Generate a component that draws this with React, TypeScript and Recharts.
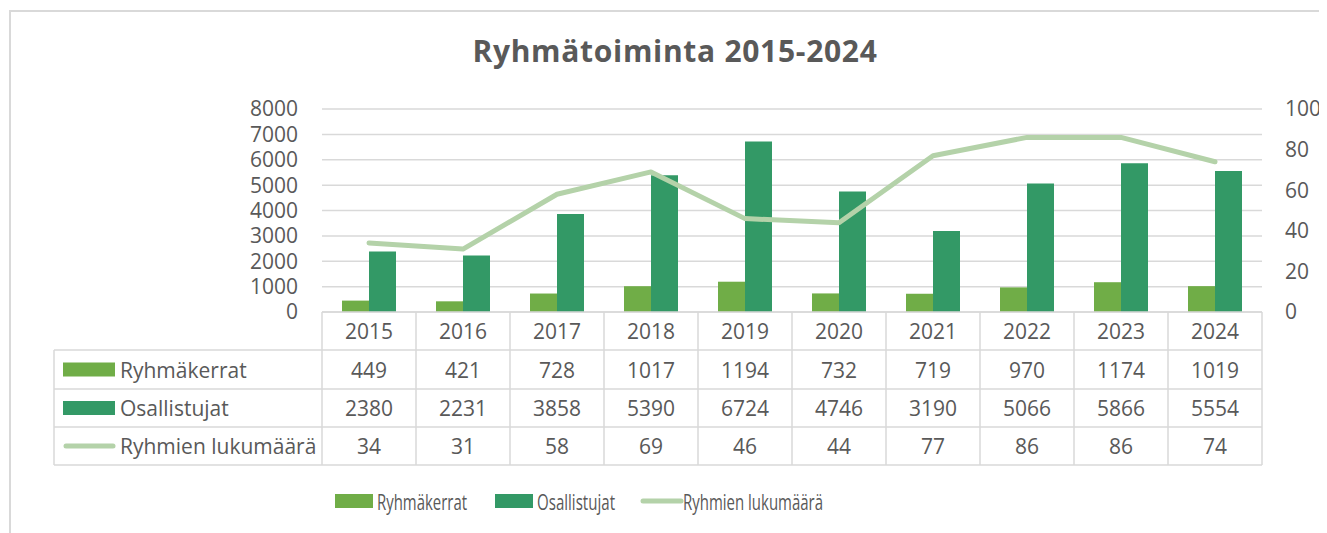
import { useLayoutEffect } from 'react';
import { Bar, CartesianGrid, ComposedChart, Legend, Line, XAxis, YAxis } from 'recharts';

// Ryhmätoiminta 2015-2024: two bar series on the left axis, group count line on the right,
// with the Excel-style data table drawn under the x axis.

const years = ['2015', '2016', '2017', '2018', '2019', '2020', '2021', '2022', '2023', '2024'];
const ryhmakerrat = [449, 421, 728, 1017, 1194, 732, 719, 970, 1174, 1019];
const osallistujat = [2380, 2231, 3858, 5390, 6724, 4746, 3190, 5066, 5866, 5554];
const ryhmienLukumaara = [34, 31, 58, 69, 46, 44, 77, 86, 86, 74];
const leftTicks = [0, 1000, 2000, 3000, 4000, 5000, 6000, 7000, 8000];
const rightTicks = [0, 20, 40, 60, 80, 100];

const data = years.map((y, i) => ({
  year: y,
  ryhmakerrat: ryhmakerrat[i],
  osallistujat: osallistujat[i],
  lukumaara: ryhmienLukumaara[i],
}));

const W = 1319;
const H = 525;
const PLOT_LEFT = 314;
const PLOT_RIGHT = 1254;
const PLOT_TOP = 101;
const PLOT_BOTTOM = 304;
const TABLE_LEFT = 46;
const ROWS = [PLOT_BOTTOM, 342, 381, 419, 457];

const LIGHT = '#70ad47';
const DARK = '#339966';
const LINE = '#b4d2a9';
const GRID = '#d9d9d9';
const TEXT = '#595959';
const FONT = '"Open Sans", "Noto Sans", sans-serif';
const FS = 21;

const series = [
  { key: 'ryhmakerrat', name: 'Ryhmäkerrat', color: LIGHT, type: 'rect', values: ryhmakerrat },
  { key: 'osallistujat', name: 'Osallistujat', color: DARK, type: 'rect', values: osallistujat },
  { key: 'lukumaara', name: 'Ryhmien lukumäärä', color: LINE, type: 'line', values: ryhmienLukumaara },
];

// legend item offsets and (condensed) text widths, matched to the Excel layout
const LEGEND_X = [0, 160, 306];
const LEGEND_TEXT_W = [90, 78, 140];

function Swatch({ x, y, s }: { x: number; y: number; s: (typeof series)[number] }) {
  if (s.type === 'line') {
    return <line x1={x + 3} x2={x + 50} y1={y} y2={y} stroke={s.color} strokeWidth={5} strokeLinecap="round" />;
  }
  return <rect x={x} y={y - 7} width={52} height={14} fill={s.color} />;
}

function TableColumn(props: any) {
  const { x, payload } = props;
  const i = years.indexOf(String(payload.value));
  const half = (PLOT_RIGHT - PLOT_LEFT) / years.length / 2;
  const l = x - half;
  const r = x + half;
  const mid = (a: number, b: number) => (a + b) / 2;
  return (
    <g fontFamily={FONT} fontSize={FS} fill={TEXT}>
      <line x1={r} x2={r} y1={ROWS[0]} y2={ROWS[4]} stroke={GRID} strokeWidth={1.5} />
      {ROWS.slice(1).map((ry) => (
        <line key={ry} x1={l} x2={r} y1={ry} y2={ry} stroke={GRID} strokeWidth={1.5} />
      ))}
      <text x={x} y={mid(ROWS[0], ROWS[1])} textAnchor="middle" dominantBaseline="central">{years[i]}</text>
      {series.map((s, k) => (
        <text key={s.key} x={x} y={mid(ROWS[k + 1], ROWS[k + 2])} textAnchor="middle" dominantBaseline="central">
          {s.values[i]}
        </text>
      ))}
      {i === 0 && (
        <g>
          <line x1={l} x2={l} y1={ROWS[0]} y2={ROWS[4]} stroke={GRID} strokeWidth={1.5} />
          <line x1={TABLE_LEFT} x2={TABLE_LEFT} y1={ROWS[1]} y2={ROWS[4]} stroke={GRID} strokeWidth={1.5} />
          {ROWS.slice(1).map((ry) => (
            <line key={ry} x1={TABLE_LEFT} x2={l} y1={ry} y2={ry} stroke={GRID} strokeWidth={1.5} />
          ))}
          {series.map((s, k) => {
            const cy = mid(ROWS[k + 1], ROWS[k + 2]);
            return (
              <g key={s.key}>
                <Swatch x={55} y={cy} s={s} />
                <text x={112} y={cy} dominantBaseline="central">{s.name}</text>
              </g>
            );
          })}
        </g>
      )}
    </g>
  );
}

function LegendContent() {
  return (
    <svg width={520} height={30} style={{ overflow: 'visible' }}>
      {series.map((s, k) => {
        const x = LEGEND_X[k];
        return (
          <g key={s.key}>
            {s.type === 'line' ? (
              <line x1={x + 2} x2={x + 40} y1={15} y2={15} stroke={s.color} strokeWidth={5} strokeLinecap="round" />
            ) : (
              <rect x={x} y={8} width={38} height={14} fill={s.color} />
            )}
            <text
              x={x + 42}
              y={15}
              dominantBaseline="central"
              fontFamily={FONT}
              fontSize={22}
              fill={TEXT}
              textLength={LEGEND_TEXT_W[k]}
              lengthAdjust="spacingAndGlyphs"
            >
              {s.name}
            </text>
          </g>
        );
      })}
    </svg>
  );
}

const axisTick = { fill: TEXT, fontSize: FS, fontFamily: FONT };

export default function App() {
  // the chart box runs off the right/bottom edge like the source screenshot; no scrollbars
  useLayoutEffect(() => {
    document.documentElement.style.overflow = 'hidden';
    document.body.style.overflow = 'hidden';
  }, []);

  return (
    <div style={{ position: 'relative', width: W, height: H, overflow: 'hidden', background: '#fff' }}>
      <div
        style={{
          position: 'absolute', left: 1, top: 2, width: W + 40, height: H + 40,
          borderTop: `2px solid ${GRID}`, borderLeft: `2px solid ${GRID}`,
        }}
      />
      <div
        style={{
          position: 'absolute', left: 0, top: 22, width: 1334, textAlign: 'center',
          fontFamily: FONT, fontWeight: 700, fontSize: 30, letterSpacing: 0.7, color: TEXT,
        }}
      >
        Ryhmätoiminta 2015-2024
      </div>
      <ComposedChart
        width={W}
        height={H}
        data={data}
        barGap={0}
        margin={{ top: PLOT_TOP, left: 0, right: 0, bottom: H - PLOT_BOTTOM - 165 }}
        style={{ position: 'absolute', left: 0, top: 0 }}
      >
        <CartesianGrid yAxisId="left" vertical={false} stroke={GRID} strokeWidth={1.5} />
        <XAxis
          dataKey="year"
          height={165}
          tickLine={false}
          axisLine={{ stroke: GRID, strokeWidth: 1.5 }}
          tick={<TableColumn />}
          interval={0}
        />
        <YAxis
          yAxisId="left"
          width={PLOT_LEFT}
          domain={[0, 8000]}
          ticks={leftTicks}
          interval={0}
          tickLine={false}
          axisLine={false}
          tickSize={0}
          tickMargin={24}
          tick={{ ...axisTick, textAnchor: 'end' }}
        />
        <YAxis
          yAxisId="right"
          orientation="right"
          width={W - PLOT_RIGHT}
          domain={[0, 100]}
          ticks={rightTicks}
          interval={0}
          tickLine={false}
          axisLine={false}
          tickSize={0}
          tickMargin={23}
          tick={{ ...axisTick, textAnchor: 'start' }}
        />
        <Bar yAxisId="left" dataKey="ryhmakerrat" name="Ryhmäkerrat" fill={LIGHT} barSize={27} isAnimationActive={false} />
        <Bar yAxisId="left" dataKey="osallistujat" name="Osallistujat" fill={DARK} barSize={27} isAnimationActive={false} />
        <Line
          yAxisId="right"
          dataKey="lukumaara"
          name="Ryhmien lukumäärä"
          type="linear"
          stroke={LINE}
          strokeWidth={5}
          strokeLinecap="round"
          strokeLinejoin="round"
          dot={false}
          isAnimationActive={false}
        />
        <Legend
          layout="horizontal"
          verticalAlign="middle"
          align="center"
          content={<LegendContent />}
          wrapperStyle={{ position: 'absolute', left: 327, top: 478, width: 520, height: 30 }}
        />
      </ComposedChart>
      {/* blank the top-right corner under the frame line (stray edge seen in renders) */}
      <div style={{ position: 'absolute', left: 1300, top: 5, width: 19, height: 85, background: '#fff', zIndex: 10 }} />
    </div>
  );
}
